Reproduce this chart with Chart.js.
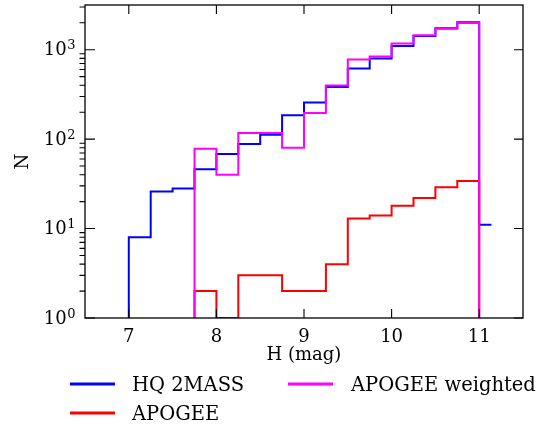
<!DOCTYPE html>
<html><head><meta charset="utf-8">
<script src="https://cdn.jsdelivr.net/npm/chart.js@4/dist/chart.umd.min.js"></script>
<style>
html,body{margin:0;padding:0;background:#fff;}
#wrap{position:relative;width:555px;height:430px;}
canvas{position:absolute;left:0;top:0;}
.leg{position:absolute;font-family:"DejaVu Serif";font-size:19.5px;color:#000;white-space:nowrap;transform:translateY(-50%);line-height:1;}
.ln{position:absolute;height:3px;transform:translateY(-50%);}
</style></head><body>
<div id="wrap"><canvas id="c" width="555" height="430"></canvas>
<div class="ln" style="left:70px;top:384px;width:45px;background:#0000ff"></div>
<div class="leg" style="left:132px;top:385px">HQ 2MASS</div>
<div class="ln" style="left:70px;top:413px;width:45px;background:#ff0000"></div>
<div class="leg" style="left:132px;top:414px">APOGEE</div>
<div class="ln" style="left:288px;top:384px;width:45px;background:#ff00ff"></div>
<div class="leg" style="left:351px;top:385px">APOGEE weighted</div>
</div>
<script>
// Bin edges (H mag)
const hqEdges = [7.0,7.25,7.5,7.75,8.0,8.25,8.5,8.75,9.0,9.25,9.5,9.75,10.0,10.25,10.5,10.75,11.0,11.14];
const hq2mass = [8,26,28,46,68,88,112,185,257,384,615,797,1100,1427,1740,2028,11];
const apoEdges = [7.75,8.0,8.25,8.5,8.75,9.0,9.25,9.5,9.75,10.0,10.25,10.5,10.75,11.0];
const apogee = [2,1,3,3,2,2,4,13,14,18,22,29,34];
const apogeeWeighted = [78,40,117,117,80,196,397,776,838,1177,1449,1710,1995];
const xTicks = [7,8,9,10,11];
const yTicks = [1,10,100,1000];
const BASE = 0.5; // histogram baseline (below log axis floor)

function stepPoints(edges, values, closeEnd){
  const pts = [{x:edges[0], y:BASE}];
  for(let i=0;i<values.length;i++) pts.push({x:edges[i], y:values[i]});
  const n = values.length;
  pts.push({x:edges[n], y:values[n-1]});
  if(closeEnd) pts.push({x:edges[n], y:BASE});
  return pts;
}

const FONT = {family:'DejaVu Serif', size:18};

const frame = {
  id:'frame',
  afterDatasetsDraw(chart){
    const {ctx, chartArea:a, scales:{x,y}} = chart;
    ctx.save();
    ctx.strokeStyle = '#000';
    ctx.lineWidth = 1.3;
    ctx.strokeRect(a.left, a.top, a.right-a.left, a.bottom-a.top);
    ctx.lineWidth = 1.1;
    ctx.beginPath();
    xTicks.forEach(v=>{
      const px = x.getPixelForValue(v);
      ctx.moveTo(px, a.bottom); ctx.lineTo(px, a.bottom-9);
      ctx.moveTo(px, a.top); ctx.lineTo(px, a.top+9);
    });
    yTicks.forEach(v=>{
      const py = y.getPixelForValue(v);
      ctx.moveTo(a.left, py); ctx.lineTo(a.left+10, py);
      ctx.moveTo(a.right, py); ctx.lineTo(a.right-9, py);
    });
    for(let d=1; d<=1000; d*=10){
      for(let m=2;m<=9;m++){
        const v = d*m;
        if(v > y.max) continue;
        const py = y.getPixelForValue(v);
        ctx.moveTo(a.left, py); ctx.lineTo(a.left-5.5, py);
      }
    }
    ctx.stroke();
    // y tick labels: 10^k
    ctx.fillStyle = '#000';
    yTicks.forEach(v=>{
      const py = y.getPixelForValue(v);
      const k = String(Math.round(Math.log10(v)));
      const xEnd = a.left - 9.5;
      ctx.font = '13px "DejaVu Serif"';
      const ew = ctx.measureText(k).width;
      ctx.textAlign = 'left'; ctx.textBaseline = 'alphabetic';
      ctx.fillText(k, xEnd - ew, py - 0.5);
      ctx.font = '18px "DejaVu Serif"';
      ctx.textAlign = 'right'; ctx.textBaseline = 'middle';
      ctx.fillText('10', xEnd - ew - 0.5, py + 1);
    });
    ctx.restore();
  }
};

new Chart(document.getElementById('c'), {
  type:'line',
  data:{datasets:[
    {label:'APOGEE weighted', data:stepPoints(apoEdges, apogeeWeighted, true), borderColor:'#ff00ff'},
    {label:'APOGEE', data:stepPoints(apoEdges, apogee, true), borderColor:'#ff0000'},
    {label:'HQ 2MASS', data:stepPoints(hqEdges, hq2mass, false), borderColor:'#0000ff'}
  ].map(d=>Object.assign(d,{stepped:true, borderWidth:2, pointRadius:0, fill:false, tension:0}))},
  options:{
    responsive:false, animation:false, devicePixelRatio:1,
    layout:{padding:{left:0, top:5, right:32, bottom:61}},
    plugins:{legend:{display:false}, tooltip:{enabled:false}},
    scales:{
      x:{type:'linear', min:6.5, max:11.5,
        grid:{display:false, drawTicks:false}, border:{display:false},
        ticks:{font:FONT, color:'#000', padding:9, maxRotation:0},
        title:{display:true, text:'H (mag)', font:FONT, color:'#000', padding:{top:0,bottom:3}},
        afterBuildTicks:s=>{s.ticks = xTicks.map(v=>({value:v}));},
        afterFit:s=>{s.height = 51; s.paddingLeft = 0; s.paddingRight = 0;}
      },
      y:{type:'logarithmic', min:1, max:3162,
        grid:{display:false, drawTicks:false}, border:{display:false},
        ticks:{display:false},
        title:{display:true, text:'N', font:FONT, color:'#000', padding:{top:13,bottom:0}},
        afterBuildTicks:s=>{s.ticks = yTicks.map(v=>({value:v}));},
        afterFit:s=>{s.width = 85; s.paddingTop = 0; s.paddingBottom = 0;}
      }
    }
  },
  plugins:[frame]
});
</script>
</body></html>
